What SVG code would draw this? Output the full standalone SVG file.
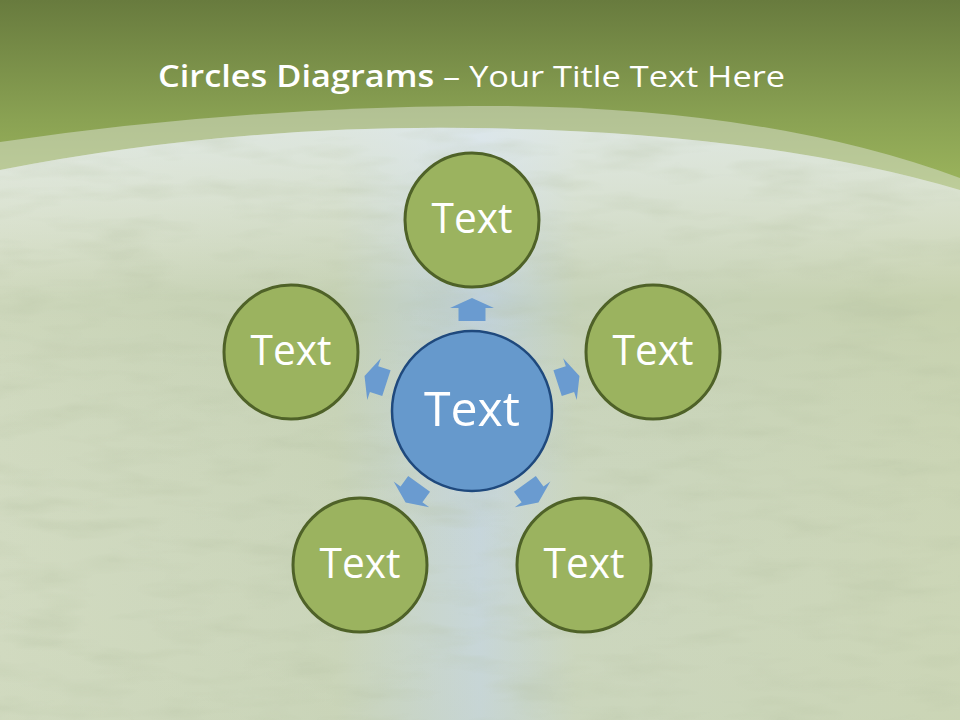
<svg xmlns="http://www.w3.org/2000/svg" width="960" height="720" viewBox="0 0 960 720">
  <defs>
    <linearGradient id="topGrad" gradientUnits="userSpaceOnUse" x1="0" y1="0" x2="0" y2="200">
      <stop offset="0" stop-color="#687b3e"/>
      <stop offset="0.6" stop-color="#8aa253"/>
      <stop offset="1" stop-color="#9fb85e"/>
    </linearGradient>
    <linearGradient id="bodyGrad" x1="0" y1="0" x2="1" y2="0">
      <stop offset="0" stop-color="#cdd7bb"/>
      <stop offset="0.35" stop-color="#c4d0b2"/>
      <stop offset="0.5" stop-color="#c0d1da"/>
      <stop offset="0.6" stop-color="#c6d2b8"/>
      <stop offset="1" stop-color="#c6d1ae"/>
    </linearGradient>
    <linearGradient id="bodyV" gradientUnits="userSpaceOnUse" x1="0" y1="120" x2="0" y2="720">
      <stop offset="0" stop-color="#e6eef0" stop-opacity="0.75"/>
      <stop offset="0.3" stop-color="#ffffff" stop-opacity="0"/>
      <stop offset="1" stop-color="#d6dec6" stop-opacity="0.3"/>
    </linearGradient>
    <filter id="grain" x="0" y="0" width="1" height="1">
      <feTurbulence type="fractalNoise" baseFrequency="0.012 0.05" numOctaves="3" seed="4" result="n"/>
      <feColorMatrix in="n" type="matrix" values="0 0 0 0 0.45  0 0 0 0 0.52  0 0 0 0 0.35  0 0 0 1.2 -0.55" result="c"/>
      <feComposite in="c" in2="SourceGraphic" operator="in"/>
    </filter>
    <style>
      .outer circle { fill: #9bb35f; stroke: #4f6228; stroke-width: 3; }
      .center circle { fill: #6699cc; stroke: #1f497d; stroke-width: 2.5; }
      .lbl { font-family: "Open Sans", "Liberation Sans", sans-serif; fill: #ffffff; text-anchor: middle; }
      .arrow { fill: #6a9bd0; }
    </style>
    <path id="arr" d="M -13.5 -90 L 13.5 -90 L 13.5 -103 L 22 -103 L 0 -113 L -22 -103 L -13.5 -103 Z"/>
  </defs>

  <!-- background -->
  <rect x="0" y="0" width="960" height="720" fill="url(#topGrad)"/>
  <path d="M0,142 Q230,108 470,106 Q760,104 960,178 L960,720 L0,720 Z" fill="#dde4d6" fill-opacity="0.5"/>
  <path d="M0,170 Q230,125 470,128 Q760,131 960,190 L960,720 L0,720 Z" fill="url(#bodyGrad)"/>
  <path d="M0,170 Q230,125 470,128 Q760,131 960,190 L960,720 L0,720 Z" fill="url(#bodyV)"/>
  <path d="M0,170 Q230,125 470,128 Q760,131 960,190 L960,720 L0,720 Z" fill="#000" filter="url(#grain)" opacity="0.5"/>

  <!-- title -->
  <text x="158" y="87" font-family="Open Sans, Liberation Sans, sans-serif" font-size="30" fill="#ffffff" textLength="627" lengthAdjust="spacingAndGlyphs"><tspan font-weight="600">Circles Diagrams</tspan> – Your Title Text Here</text>

  <!-- connectors -->
  <g id="connectors" class="arrow">
    <use href="#arr" transform="translate(472,411) rotate(0)"/>
    <use href="#arr" transform="translate(472,411) rotate(72)"/>
    <use href="#arr" transform="translate(472,411) rotate(144)"/>
    <use href="#arr" transform="translate(472,411) rotate(216)"/>
    <use href="#arr" transform="translate(472,411) rotate(288)"/>
  </g>

  <!-- nodes -->
  <g id="node-center" class="center">
    <circle cx="472" cy="411" r="80"/>
    <text class="lbl" x="472" y="426" font-size="48" textLength="96" lengthAdjust="spacingAndGlyphs">Text</text>
  </g>
  <g id="node-top" class="outer">
    <circle cx="472" cy="220" r="67"/>
    <text class="lbl" x="472" y="233" font-size="42" textLength="81" lengthAdjust="spacingAndGlyphs">Text</text>
  </g>
  <g id="node-right" class="outer">
    <circle cx="653" cy="352" r="67"/>
    <text class="lbl" x="653" y="365" font-size="42" textLength="81" lengthAdjust="spacingAndGlyphs">Text</text>
  </g>
  <g id="node-left" class="outer">
    <circle cx="291" cy="352" r="67"/>
    <text class="lbl" x="291" y="365" font-size="42" textLength="81" lengthAdjust="spacingAndGlyphs">Text</text>
  </g>
  <g id="node-bottom-left" class="outer">
    <circle cx="360" cy="565" r="67"/>
    <text class="lbl" x="360" y="578" font-size="42" textLength="81" lengthAdjust="spacingAndGlyphs">Text</text>
  </g>
  <g id="node-bottom-right" class="outer">
    <circle cx="584" cy="565" r="67"/>
    <text class="lbl" x="584" y="578" font-size="42" textLength="81" lengthAdjust="spacingAndGlyphs">Text</text>
  </g>
</svg>
